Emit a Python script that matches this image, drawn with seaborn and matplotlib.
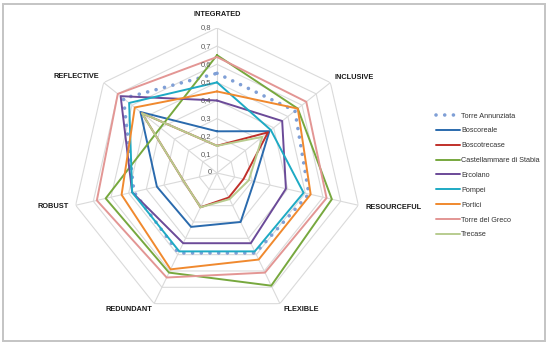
import numpy as np
import pandas as pd
import matplotlib
matplotlib.use('Agg')
import matplotlib.pyplot as plt
import seaborn as sns
from matplotlib.patches import Rectangle

# eixos do radar (sentido horário a partir do topo)
eixos = ['INTEGRATED', 'INCLUSIVE', 'RESOURCEFUL', 'FLEXIBLE', 'REDUNDANT', 'ROBUST', 'REFLECTIVE']

cidades = ['Torre Annunziata', 'Boscoreale', 'Boscotrecase', 'Castellammare di Stabia',
           'Ercolano', 'Pompei', 'Portici', 'Torre del Greco', 'Trecase']

torre_annunziata = [0.55, 0.55, 0.52, 0.49, 0.49, 0.47, 0.66]
boscoreale = [0.23, 0.37, 0.21, 0.30, 0.33, 0.34, 0.54]
boscotrecase = [0.15, 0.36, 0.15, 0.15, 0.21, 0.19, 0.53]
castellammare = [0.65, 0.57, 0.65, 0.69, 0.61, 0.63, 0.40]
ercolano = [0.40, 0.46, 0.39, 0.43, 0.43, 0.48, 0.68]
pompei = [0.50, 0.38, 0.49, 0.48, 0.48, 0.48, 0.62]
portici = [0.45, 0.57, 0.53, 0.53, 0.59, 0.54, 0.58]
torre_del_greco = [0.64, 0.63, 0.62, 0.61, 0.64, 0.68, 0.70]
trecase = [0.15, 0.32, 0.18, 0.16, 0.21, 0.19, 0.53]

valores = [torre_annunziata, boscoreale, boscotrecase, castellammare, ercolano,
           pompei, portici, torre_del_greco, trecase]

cores = ['#7f9fd6', '#2a6aad', '#c0302a', '#77a83e', '#6b4a98',
         '#1eaac4', '#f0892e', '#e39694', '#b8cc8f']

niveis = [0.1, 0.2, 0.3, 0.4, 0.5, 0.6, 0.7, 0.8]
rotulos_niveis = ['0', '0,1', '0,2', '0,3', '0,4', '0,5', '0,6', '0,7', '0,8']

n = len(eixos)
angulos = np.linspace(0, 2 * np.pi, n, endpoint=False)
angulos_fechados = np.append(angulos, 2 * np.pi)

sns.set_style('white')
plt.rcParams['font.family'] = ['Liberation Sans', 'DejaVu Sans']

fig = plt.figure(figsize=(5.5, 3.45), dpi=100)
ax = fig.add_axes([72 / 550, 27 / 345, 290 / 550, 290 / 345], projection='polar')
ax.set_theta_offset(np.pi / 2)
ax.set_theta_direction(-1)
ax.set_ylim(0, 0.8)
ax.grid(False)
ax.spines['polar'].set_visible(False)
ax.set_xticks([])
ax.set_yticks([])

# grade poligonal (estilo Excel)
for nivel in niveis:
    ax.plot(angulos_fechados, [nivel] * (n + 1), color='#dadada', lw=0.8, zorder=0)
for a in angulos:
    ax.plot([a, a], [0, 0.8], color='#dadada', lw=0.8, zorder=0)

# séries
for i, cidade in enumerate(cidades):
    df = pd.DataFrame({'theta': angulos_fechados,
                       'valor': valores[i] + [valores[i][0]]})
    if i == 0:
        sns.lineplot(data=df, x='theta', y='valor', sort=False, ax=ax, color=cores[i],
                     lw=2.6, linestyle=(0, (0.01, 2.4)), dash_capstyle='round',
                     label=cidade, zorder=2)
    else:
        sns.lineplot(data=df, x='theta', y='valor', sort=False, ax=ax, color=cores[i],
                     lw=1.4, label=cidade, zorder=3)

ax.set_xlabel('')
ax.set_ylabel('')
ax.set_ylim(0, 0.8)

# rótulos da escala
for r, txt in zip([0] + niveis, rotulos_niveis):
    ax.annotate(txt, xy=(0, r), xytext=(-4, 0), textcoords='offset points',
                ha='right', va='center', fontsize=5.5, color='#595959')

# rótulos dos eixos
deslocamentos = [(0, 9.5, 'center'), (3, 3.5, 'left'), (5, -1.5, 'left'),
                 (2.5, -4, 'left'), (-1.5, -4, 'right'), (-5, -1, 'right'),
                 (-3.5, 4.5, 'right')]
for a, nome, (dx, dy, ha) in zip(angulos, eixos, deslocamentos):
    ax.annotate(nome, xy=(a, 0.8), xytext=(dx, dy), textcoords='offset points',
                ha=ha, va='center', fontsize=5.3, fontweight='bold', color='#1a1a1a')

ax.legend(loc='upper left', bbox_to_anchor=(429 / 550, 1 - 106 / 345),
          bbox_transform=fig.transFigure, frameon=False, fontsize=5.2,
          handlelength=3.4, handletextpad=0.15, labelspacing=1.08,
          labelcolor='#333333')

# moldura cinza
fig.patches.append(Rectangle((3 / 550, 4 / 345), 542 / 550, 337 / 345,
                             transform=fig.transFigure, fill=False,
                             edgecolor='#c4c4c4', lw=1.4))

fig.savefig('out.png', dpi=100)
